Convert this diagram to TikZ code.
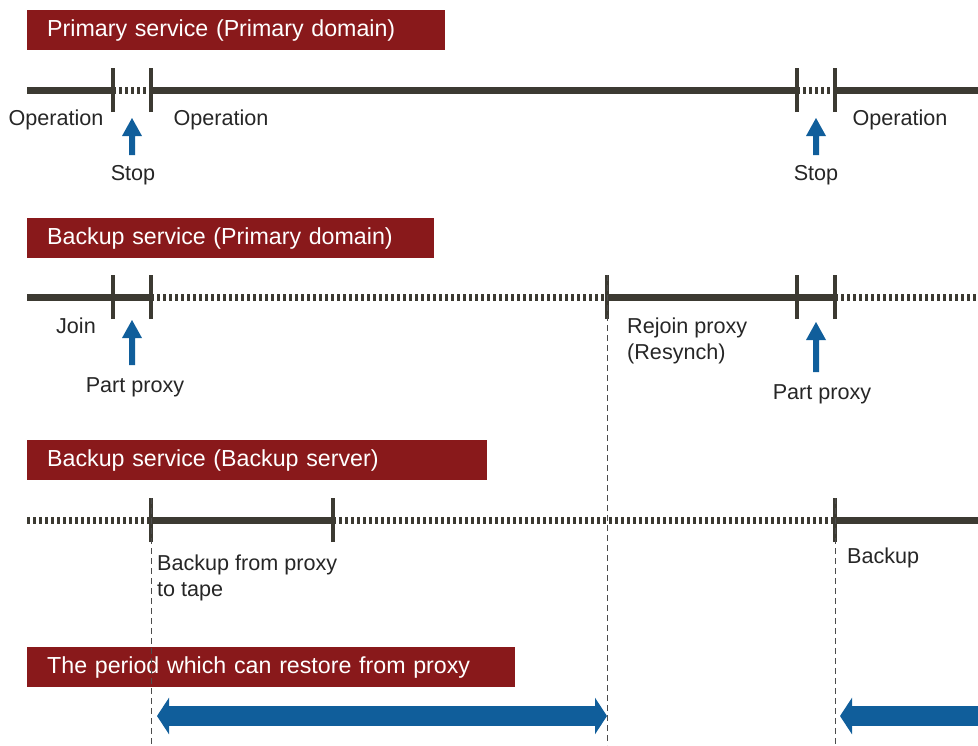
\documentclass[tikz,border=0pt]{standalone}
\usepackage{fontspec}
\setmainfont{Liberation Sans}
\usetikzlibrary{arrows.meta,positioning}
\definecolor{bannerred}{RGB}{137,25,27}
\definecolor{linegray}{RGB}{60,58,50}
\definecolor{arrowblue}{RGB}{16,94,155}
\tikzset{
  banner/.style ={fill=bannerred, text=white, anchor=west, align=left, inner xsep=20pt, minimum height=40pt, font=\fontsize{23.2}{26}\selectfont},
  lbl/.style    ={font=\fontsize{21.6}{26}\selectfont, inner sep=0pt, text=black!85},
  run/.style    ={draw=linegray, line width=7pt},
  idle/.style   ={draw=linegray, line width=7pt, dash pattern=on 3pt off 3pt},
  tick/.style   ={draw=linegray, line width=4pt},
  guide/.style  ={draw=black!70, line width=1pt, dash pattern=on 6pt off 4pt},
  upar/.style   ={draw=none, fill=arrowblue},
  period/.style ={arrowblue, line width=20pt, -{Triangle[width=36pt,length=12pt]}},
}

\begin{document}
\begin{tikzpicture}[x=1pt, y=-1pt]
  \useasboundingbox (0,0) rectangle (978,745);
  % --- banners ---
  \node[banner, text width=378pt] (b1) at (27,30)  {Primary service (Primary domain)};
  \node[banner, text width=367pt] (b2) at (27,238) {Backup service (Primary domain)};
  \node[banner, text width=420pt] (b3) at (27,460) {Backup service (Backup server)};
  \node[banner, text width=448pt] (b4) at (27,667) {The period which can restore from proxy};

  % --- primary service ---
  \foreach \n/\x in {s/27, a/113, b/151, c/797, d/835, e/978} {\coordinate (p\n) at (\x,90);}
  \draw[run] (ps)--(pa); \draw[idle] (pa)--(pb); \draw[run] (pb)--(pc);
  \draw[idle] (pc)--(pd); \draw[run] (pd)--(pe);
  \foreach \n in {a,b,c,d} {\draw[tick] ([yshift=-22pt]p\n)--([yshift=22pt]p\n);}
  \node[lbl] (op1) at (56,120) {Operation};
  \node[lbl] (op2) at (221,120) {Operation};
  \node[lbl] (op3) at (900,120) {Operation};
  \node[lbl] (st1) at (133,175) {Stop};
  \node[lbl] (st2) at (816,175) {Stop};

  % --- backup service, primary domain ---
  \foreach \n/\x in {s/27, a/113, b/151, r/607, c/797, d/835, e/978} {\coordinate (q\n) at (\x,297);}
  \draw[run] (qs)--(qa)--(qb); \draw[idle] (qb)--(qr); \draw[run] (qr)--(qc)--(qd);
  \draw[idle] (qd)--(qe);
  \foreach \n in {a,b,r,c,d} {\draw[tick] ([yshift=-22pt]q\n)--([yshift=22pt]q\n);}
  \node[lbl] (jn) at (76,326) {Join};
  \node[lbl] (pp1) at (135,387) {Part proxy};
  \node[lbl, align=left, anchor=west] (rj) at (627,341) {Rejoin proxy\\(Resynch)};
  \node[lbl] (pp2) at (822,394) {Part proxy};

  % --- backup service, backup server ---
  \foreach \n/\x in {s/27, b/151, t/333, d/835, e/978} {\coordinate (r\n) at (\x,520);}
  \draw[idle] (rs)--(rb); \draw[run] (rb)--(rt); \draw[idle] (rt)--(rd); \draw[run] (rd)--(re);
  \foreach \n in {b,t,d} {\draw[tick] ([yshift=-22pt]r\n)--([yshift=22pt]r\n);}
  \node[lbl, align=left, anchor=west] (bt) at (157,578) {Backup from proxy\\to tape};
  \node[lbl, anchor=west] (bk) at (847,558) {Backup};

  % --- stop / part arrows ---
  \foreach \x/\y/\t in {132/118/155, 816/118/155, 132/320/365, 816/322/372} {
    \fill[upar] (\x,\y) -- (\x+10,\y+18) -- (\x+3,\y+18) -- (\x+3,\t)
      -- (\x-3,\t) -- (\x-3,\y+18) -- (\x-10,\y+18) -- cycle;
  }

  % --- guides ---
  \coordinate (g1) at (151,745); \coordinate (g2) at (607,745); \coordinate (g3) at (835,745);
  \draw[guide] ([yshift=22pt]rb)--(g1);
  \draw[guide] ([yshift=22pt]qr)--(g2);
  \draw[guide] ([yshift=22pt]rd)--(g3);

  % --- restore periods ---
  \coordinate (ra) at (157,716); \coordinate (rz) at (607,716);
  \coordinate (sa) at (978,716); \coordinate (sz) at (840,716);
  \draw[period, {Triangle[width=36pt,length=12pt]}-{Triangle[width=36pt,length=12pt]}] (ra)--(rz);
  \draw[period] (sa)--(sz);
\end{tikzpicture}
\end{document}
